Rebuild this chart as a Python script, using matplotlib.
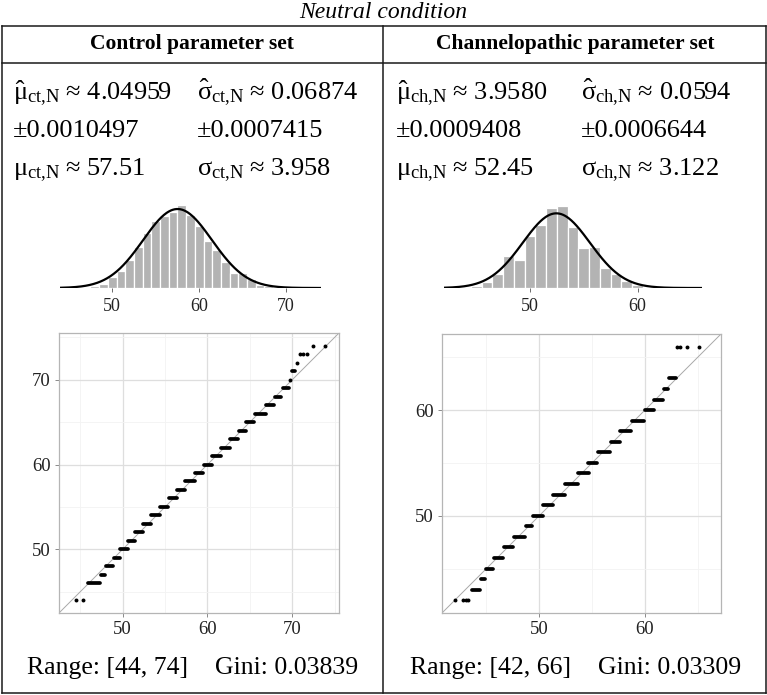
import numpy as np
import matplotlib
matplotlib.use("Agg")
import matplotlib.pyplot as plt

# ---------------- data ----------------
title = "Neutral condition"
panel_titles = ["Control parameter set", "Channelopathic parameter set"]

ct_mu, ct_sigma = 57.51, 3.958
ch_mu, ch_sigma = 52.45, 3.122
ct_range = (44, 74)
ch_range = (42, 66)
ct_gini = "0.03839"
ch_gini = "0.03309"

# (symbol, has hat, subscript, value text)
ct_stats = [("\\mu", True, "ct{,}N", "\u2248 4.04959"), ("\\sigma", True, "ct{,}N", "\u2248 0.06874"),
            ("", False, "", "\u00b10.0010497"), ("", False, "", "\u00b10.0007415"),
            ("\\mu", False, "ct{,}N", "\u2248 57.51"), ("\\sigma", False, "ct{,}N", "\u2248 3.958")]
ch_stats = [("\\mu", True, "ch{,}N", "\u2248 3.9580"), ("\\sigma", True, "ch{,}N", "\u2248 0.0594"),
            ("", False, "", "\u00b10.0009408"), ("", False, "", "\u00b10.0006644"),
            ("\\mu", False, "ch{,}N", "\u2248 52.45"), ("\\sigma", False, "ch{,}N", "\u2248 3.122")]

# histogram (density per integer value)
ct_hist_bins = list(range(44, 75))
ct_hist_density = [0.0004, 0.0, 0.0013, 0.0017, 0.0026, 0.0052, 0.0134, 0.0215, 0.0353, 0.0517,
                   0.0698, 0.0849, 0.0913, 0.0974, 0.1060, 0.0931, 0.0788, 0.0603, 0.0487, 0.0336,
                   0.0194, 0.0194, 0.0121, 0.0043, 0.0022, 0.0013, 0.0009, 0.0009, 0.0004, 0.0004, 0.0004]
ch_hist_bins = list(range(42, 67))
ch_hist_density = [0.0010, 0.0020, 0.0020, 0.0035, 0.0104, 0.0248, 0.0547, 0.0478, 0.0892, 0.1082,
                   0.1370, 0.1405, 0.1042, 0.0679, 0.0708, 0.0345, 0.0248, 0.0121, 0.0046, 0.0017,
                   0.0012, 0.0017, 0.0, 0.0, 0.0006]

# QQ plot: runs of tied sample values (theoretical quantile extent) and isolated points
ct_run_vals = [46, 47, 48, 49, 50, 51, 52, 53, 54, 55, 56, 57, 58, 59, 60, 61, 62, 63, 64, 65, 66, 67, 68, 69, 71]
ct_run_lo = [45.90, 47.50, 48.05, 49.00, 49.70, 50.64, 51.51, 52.42, 53.37, 54.39, 55.42, 56.40, 57.39,
             58.49, 59.56, 60.58, 61.57, 62.64, 63.66, 64.53, 65.55, 66.90, 67.92, 68.91, 70.00]
ct_run_hi = [47.30, 47.90, 48.90, 49.67, 50.58, 51.41, 52.39, 53.38, 54.37, 55.39, 56.38, 57.40, 58.47,
             59.49, 60.56, 61.59, 62.61, 63.64, 64.50, 65.53, 66.87, 67.82, 68.69, 69.59, 70.27]
ct_dot_vals = [44, 44, 70, 72, 73, 73, 73, 74, 74]
ct_dot_x = [44.48, 45.38, 69.76, 70.59, 70.87, 71.30, 71.74, 72.40, 73.90]

ch_run_vals = [43, 44, 45, 46, 47, 48, 49, 50, 51, 52, 53, 54, 55, 56, 57, 58, 59, 60, 61, 62, 63]
ch_run_lo = [43.68, 44.51, 44.95, 45.71, 46.66, 47.61, 48.75, 49.38, 50.39, 51.34, 52.42, 53.68, 54.63,
             55.52, 56.78, 57.67, 58.81, 59.98, 60.90, 61.78, 62.29]
ch_run_hi = [44.36, 44.86, 45.62, 46.57, 47.52, 48.66, 49.36, 50.37, 51.32, 52.46, 53.66, 54.67, 55.49,
             56.70, 57.65, 58.72, 59.92, 60.87, 61.70, 62.14, 62.90]
ch_dot_vals = [42, 42, 42, 42, 66, 66, 66, 66]
ch_dot_x = [42.06, 42.78, 43.05, 43.30, 63.07, 63.35, 64.00, 65.16]

# ---------------- figure ----------------
W, H = 767, 695
SERIF = "Liberation Serif"
plt.rcParams["font.family"] = [SERIF, "DejaVu Serif"]
plt.rcParams["mathtext.fontset"] = "custom"
plt.rcParams["mathtext.rm"] = SERIF
plt.rcParams["mathtext.it"] = SERIF
plt.rcParams["mathtext.bf"] = SERIF + ":bold"

fig = plt.figure(figsize=(W / 100, H / 100), dpi=100)


def ax_px(x0, y0, x1, y1, **kw):
    return fig.add_axes([x0 / W, 1 - y1 / H, (x1 - x0) / W, (y1 - y0) / H], **kw)


# background overlay in pixel coordinates for the table frame and texts
bg = ax_px(0, 0, W, H)
bg.set_xlim(0, W)
bg.set_ylim(H, 0)
bg.axis("off")

LC = "#1a1a1a"
LW = 1.1
TOP, HDR, BOT, LEFT, RIGHT, MID = 25.5, 63, 693, 1.5, 765.5, 383
bg.plot([LEFT, RIGHT], [TOP, TOP], color=LC, lw=LW)
bg.plot([LEFT, RIGHT], [HDR, HDR], color=LC, lw=LW)
bg.plot([LEFT, RIGHT], [BOT, BOT], color=LC, lw=LW)
bg.plot([LEFT, LEFT], [TOP, BOT], color=LC, lw=LW)
bg.plot([RIGHT, RIGHT], [TOP, BOT], color=LC, lw=LW)
bg.plot([MID, MID], [TOP, BOT], color=LC, lw=LW)

bg.text(W / 2, 12, title, ha="center", va="center", fontsize=17, style="italic", color="black")
bg.text(192, 44, panel_titles[0], ha="center", va="center", fontsize=15.5, fontweight="bold")
bg.text(575, 44, panel_titles[1], ha="center", va="center", fontsize=15.5, fontweight="bold")

FS = 19


def stat_label(item):
    sym, hat, sub, val = item
    if not sym:
        return val
    if hat:
        # compensate matplotlib's rightward accent offset for an upright glyph
        nuc = "{\\hat{%s\\hspace{-0.14}}\\hspace{0.14}}" % sym
    else:
        nuc = sym
    return "$%s_{\\mathrm{%s}}$ %s" % (nuc, sub, val)


row_base = [99, 137, 175]
for stats, (c1, c2) in [(ct_stats, (13, 197)), (ch_stats, (396, 581))]:
    for r in range(3):
        bg.text(c1, row_base[r], stat_label(stats[2 * r]), ha="left", va="baseline", fontsize=FS)
        bg.text(c2, row_base[r], stat_label(stats[2 * r + 1]), ha="left", va="baseline", fontsize=FS)

BY = 674
BFS = 18.5
bg.text(27, BY, "Range: [%d, %d]" % ct_range, ha="left", va="baseline", fontsize=BFS)
bg.text(215, BY, "Gini: " + ct_gini, ha="left", va="baseline", fontsize=BFS)
bg.text(410, BY, "Range: [%d, %d]" % ch_range, ha="left", va="baseline", fontsize=BFS)
bg.text(598, BY, "Gini: " + ch_gini, ha="left", va="baseline", fontsize=BFS)


# ---------------- histograms ----------------
def draw_hist(box, bins, dens, mu, sigma, rng, ticks, ytop):
    ax = ax_px(*box)
    ax.bar(bins, dens, width=1.0, color="#b3b3b3", edgecolor="white", linewidth=0.9)
    xs = np.linspace(rng[0], rng[1], 400)
    ax.plot(xs, np.exp(-0.5 * ((xs - mu) / sigma) ** 2) / (sigma * np.sqrt(2 * np.pi)),
            color="black", lw=1.6)
    ax.set_xlim(rng)
    ax.set_ylim(0, ytop)
    for s in ax.spines.values():
        s.set_visible(False)
    ax.set_yticks([])
    ax.set_xticks(ticks)
    ax.tick_params(axis="x", length=3, width=0.6, color="#555555", labelsize=13,
                   labelcolor="#222222", pad=4)
    ax.patch.set_alpha(0)


draw_hist((60, 200, 321, 288), ct_hist_bins, ct_hist_density, ct_mu, ct_sigma, ct_range, [50, 60, 70], 0.1123)
draw_hist((444, 200, 702, 288), ch_hist_bins, ch_hist_density, ch_mu, ch_sigma, ch_range, [50, 60], 0.1506)


# ---------------- QQ plots ----------------
def draw_qq(box, rng, ticks, minor, run_vals, run_lo, run_hi, dot_vals, dot_x):
    ax = ax_px(*box)
    pad = 0.05 * (rng[1] - rng[0])
    lim = (rng[0] - pad, rng[1] + pad)
    ax.set_xlim(lim)
    ax.set_ylim(lim)
    ax.set_xticks(ticks)
    ax.set_yticks(ticks)
    ax.set_xticks(minor, minor=True)
    ax.set_yticks(minor, minor=True)
    ax.grid(which="major", color="#dedede", lw=0.9)
    ax.grid(which="minor", color="#f3f3f3", lw=0.6)
    ax.set_axisbelow(True)
    for s in ax.spines.values():
        s.set_color("#b5b5b5")
        s.set_linewidth(0.9)
    ax.tick_params(which="major", length=3, width=0.6, color="#777777", labelsize=13.5,
                   labelcolor="#222222", pad=3)
    ax.tick_params(which="minor", length=0)
    ax.axline((lim[0], lim[0]), slope=1, color="#a8a8a8", lw=0.7, zorder=2)
    for v, lo, hi in zip(run_vals, run_lo, run_hi):
        ax.plot([lo, hi], [v, v], color="black", lw=2.7, solid_capstyle="round", zorder=3)
    ax.scatter(dot_x, dot_vals, s=8, color="black", linewidths=0, zorder=3)


draw_qq((59, 333, 339, 613), ct_range, [50, 60, 70], [45, 55, 65, 75],
        ct_run_vals, ct_run_lo, ct_run_hi, ct_dot_vals, ct_dot_x)
draw_qq((442, 334, 721, 613), ch_range, [50, 60], [45, 55, 65],
        ch_run_vals, ch_run_lo, ch_run_hi, ch_dot_vals, ch_dot_x)

fig.savefig("out.png", dpi=100)
